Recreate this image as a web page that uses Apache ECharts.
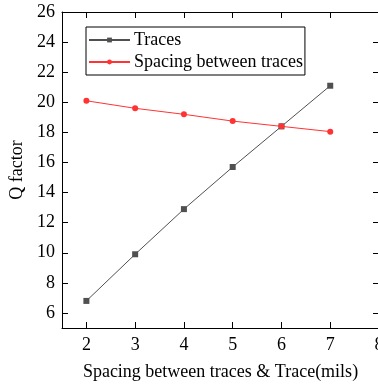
<!DOCTYPE html>
<html>
<head>
<meta charset="utf-8">
<script src="https://cdn.jsdelivr.net/npm/echarts@6/dist/echarts.min.js"></script>
<style>
  html, body { margin: 0; padding: 0; background: #fff; }
  #chart { width: 378px; height: 384px; }
</style>
</head>
<body>
<div id="chart"></div>
<script>
const spacing = [2, 3, 4, 5, 6, 7]
const tracesQ = [6.8, 9.9, 12.9, 15.7, 18.4, 21.1]
const spacingQ = [20.1, 19.6, 19.2, 18.75, 18.4, 18.05]
const xTicks = [2, 3, 4, 5, 6, 7, 8]
const yTicks = [6, 8, 10, 12, 14, 16, 18, 20, 22, 24, 26]

const font = 'Liberation Serif, Times New Roman, serif'
const axisLine = { show: true, lineStyle: { color: '#000', width: 1 } }
const tick = { show: true, inside: true, length: 6, lineStyle: { color: '#000' } }

let myChart = echarts.init(document.getElementById('chart'))
let option = {
    animation: false,
    grid: { left: 62, top: 12, width: 317, height: 316, outerBoundsMode: 'none', containLabel: false },
    legend: {
        orient: 'vertical',
        left: 86,
        top: 27,
        padding: [4, 2, 4, 2],
        itemGap: 4,
        itemWidth: 41,
        itemHeight: 6,
        borderColor: '#000',
        borderWidth: 1,
        backgroundColor: '#fff',
        textStyle: { fontFamily: font, fontSize: 18, color: '#000', padding: [0, 0, 0, -1] },
        data: ['Traces', 'Spacing between traces']
    },
    xAxis: [{
        type: 'value',
        min: 1.5,
        max: 8,
        name: 'Spacing between traces & Trace(mils)',
        nameLocation: 'middle',
        nameGap: 35,
        nameTextStyle: { fontFamily: font, fontSize: 18, color: '#000' },
        axisLine: axisLine,
        axisTick: Object.assign({ customValues: xTicks }, tick),
        axisLabel: { customValues: xTicks, fontFamily: font, fontSize: 18, color: '#000', margin: 8 },
        splitLine: { show: false }
    }, {
        type: 'value',
        position: 'top',
        min: 1.5,
        max: 8,
        axisLine: axisLine,
        axisTick: Object.assign({ customValues: xTicks }, tick),
        axisLabel: { show: false },
        splitLine: { show: false }
    }],
    yAxis: [{
        type: 'value',
        min: 5,
        max: 26,
        name: 'Q factor',
        nameLocation: 'middle',
        nameGap: 36,
        nameTextStyle: { fontFamily: font, fontSize: 18, color: '#000' },
        axisLine: axisLine,
        axisTick: Object.assign({ customValues: yTicks }, tick),
        axisLabel: { customValues: yTicks, fontFamily: font, fontSize: 18, color: '#000', margin: 7 },
        splitLine: { show: false }
    }, {
        type: 'value',
        position: 'right',
        min: 5,
        max: 26,
        axisLine: axisLine,
        axisTick: Object.assign({ customValues: yTicks }, tick),
        axisLabel: { show: false },
        splitLine: { show: false }
    }],
    series: [{
        name: 'Traces',
        type: 'line',
        data: spacing.map((x, i) => [x, tracesQ[i]]),
        symbol: 'rect',
        symbolSize: 6,
        itemStyle: { color: '#505050' },
        lineStyle: { color: '#505050', width: 1 }
    }, {
        name: 'Spacing between traces',
        type: 'line',
        data: spacing.map((x, i) => [x, spacingQ[i]]),
        symbol: 'circle',
        symbolSize: 6,
        itemStyle: { color: '#ff3333' },
        lineStyle: { color: '#ff3333', width: 1 }
    }]
}
myChart.setOption(option)
</script>
</body>
</html>
